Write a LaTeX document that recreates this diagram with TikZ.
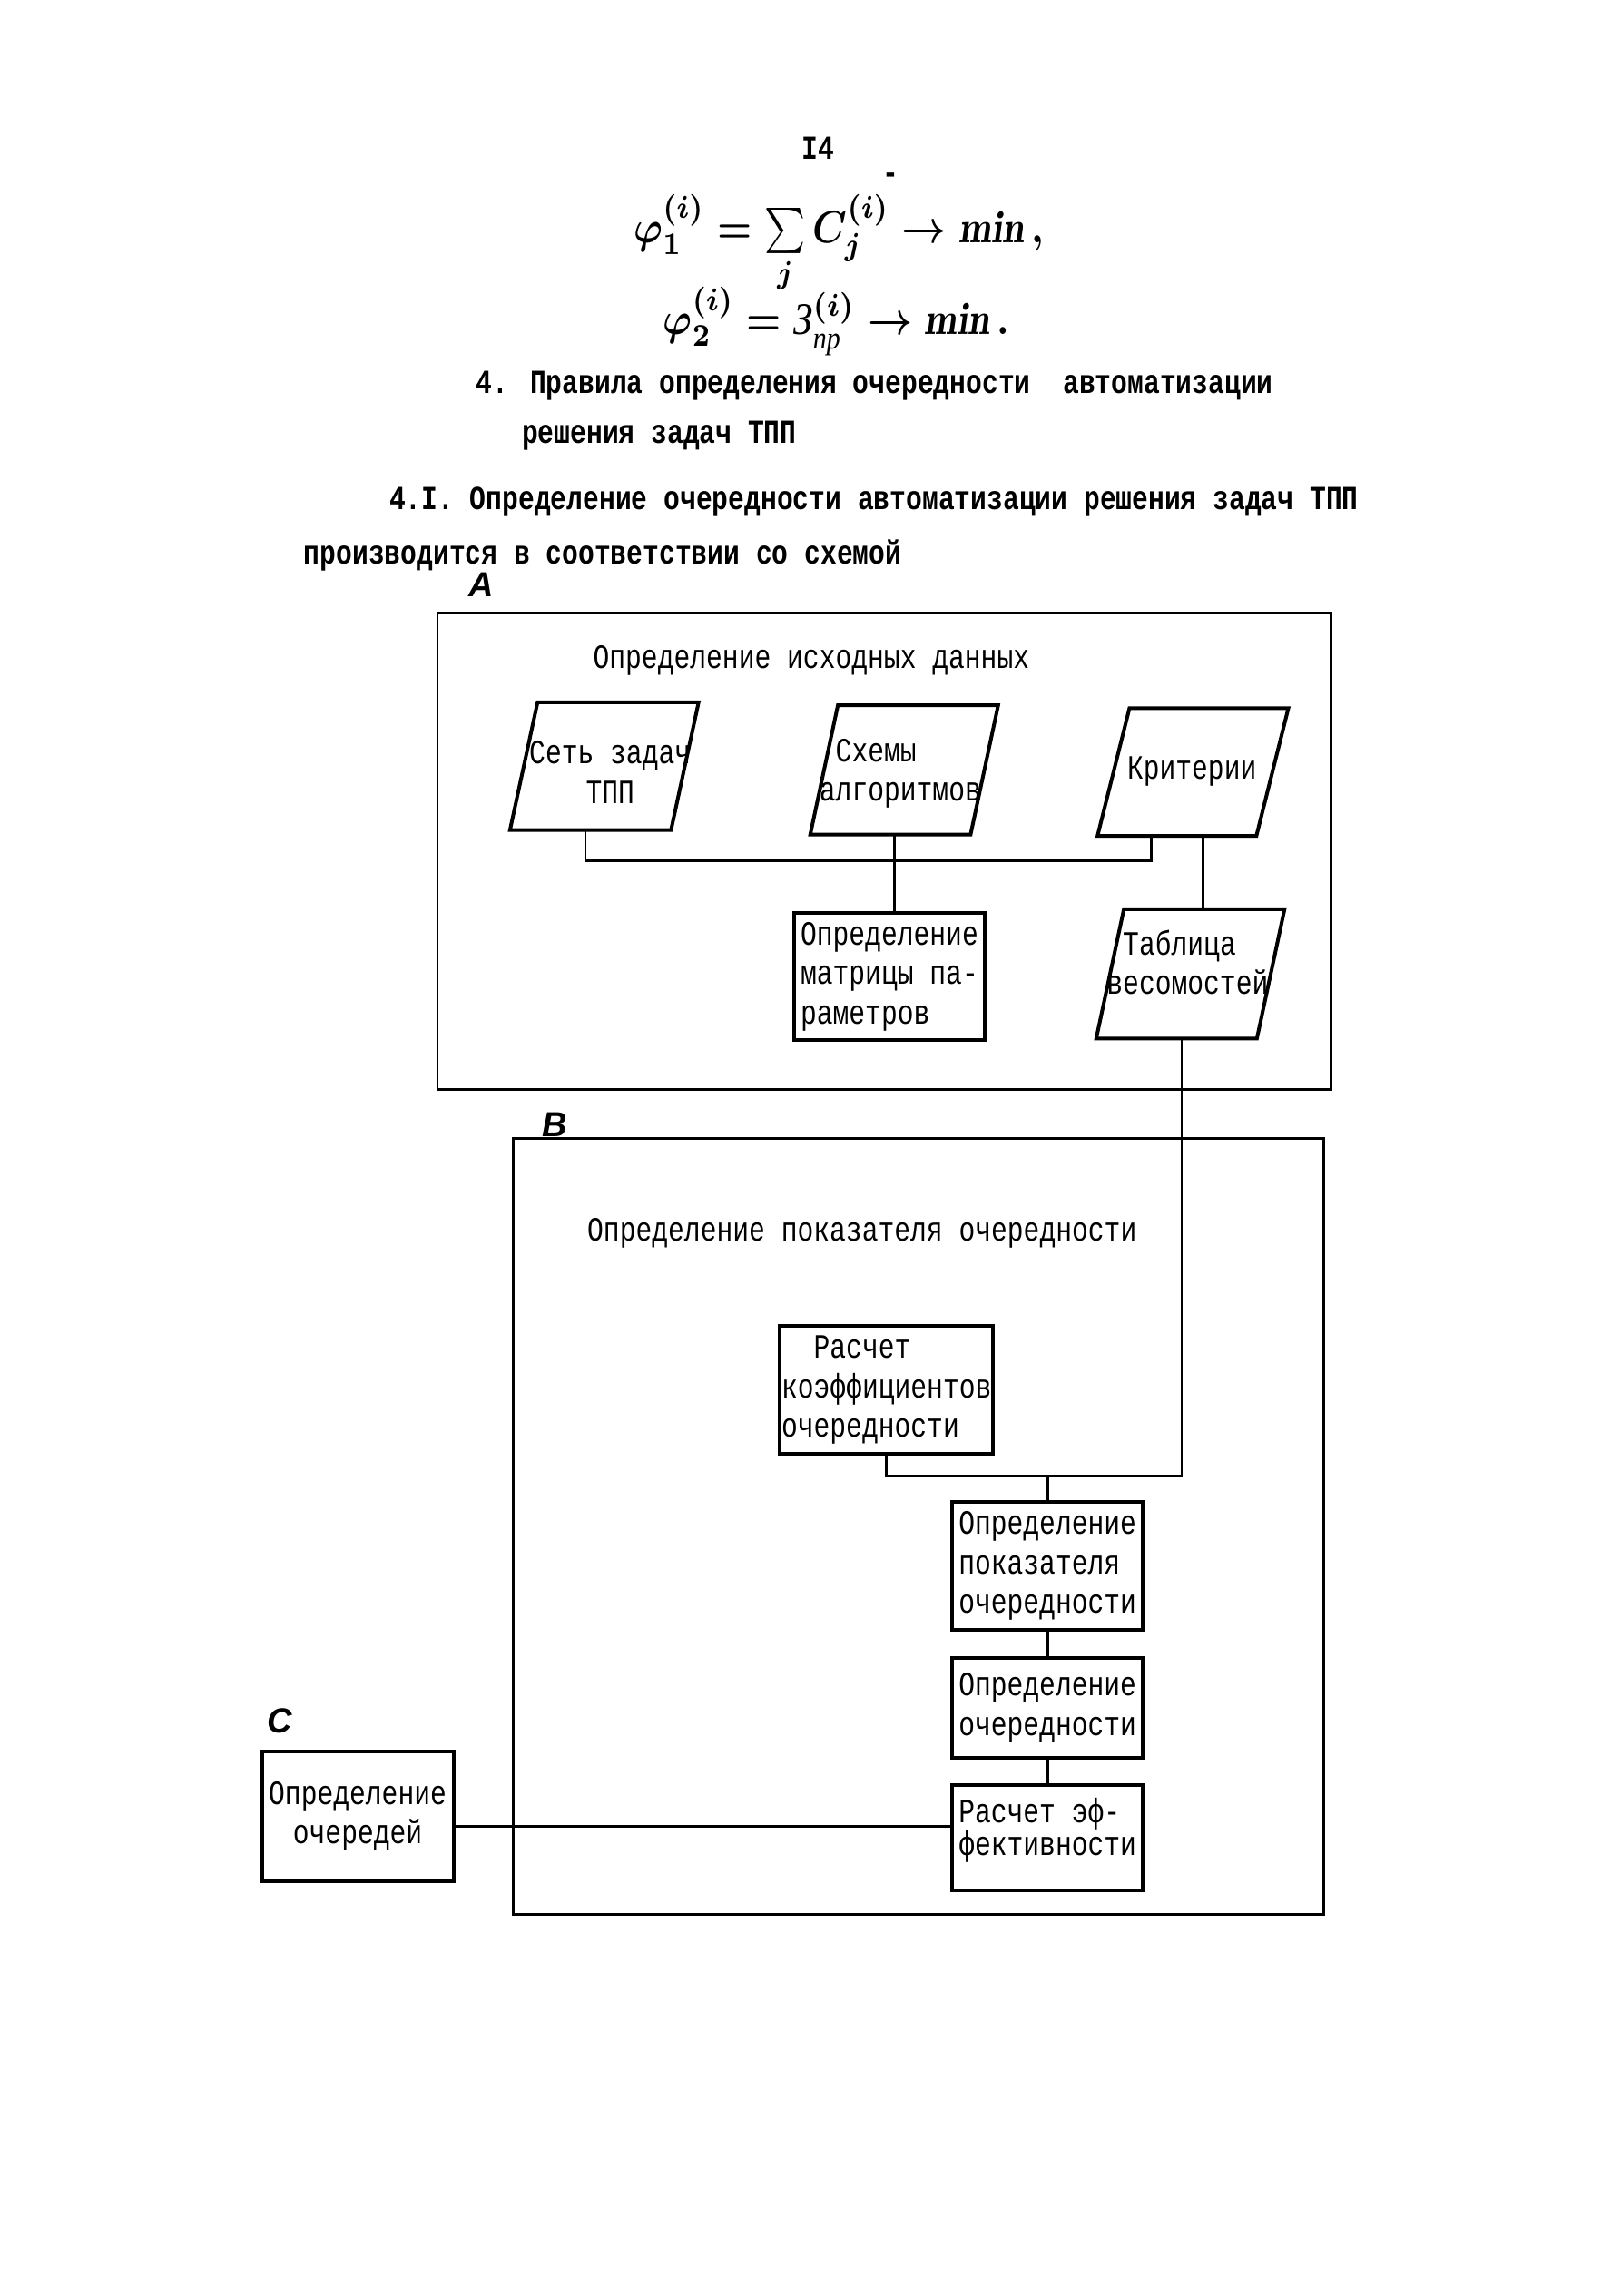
\documentclass[tikz,border=0pt]{standalone}
\usepackage{fontspec}
\usepackage{amsmath}
\usepackage{graphicx}
\newfontfamily\tw[FakeStretch=0.8]{Liberation Mono}
\newfontfamily\lblsans{Liberation Sans}
\newfontfamily\cyrit{Liberation Serif}
\newcommand\boxfont{\tw\fontsize{13.2}{15.3}\selectfont}
\newcommand\headfont{\tw\bfseries\fontsize{13}{15}\selectfont}
\newcommand\lblfont{\lblsans\bfseries\itshape\fontsize{13.5}{13.5}\selectfont}
\newcommand\drawpara[2]{\draw[pline] ([xshift=#2]#1.north west) -- ([xshift=#2]#1.north east) -- ([xshift=-#2]#1.south east) -- ([xshift=-#2]#1.south west) -- cycle;}
\begin{document}
\begin{tikzpicture}[x=0.2mm,y=-0.2mm,
  sbox/.style={draw, line width=1.4pt, inner sep=0pt, outer sep=0pt, font=\boxfont, align=left},
  bigbox/.style={draw, line width=1pt, inner sep=0pt, outer sep=0pt},
  pbase/.style={inner sep=0pt, outer sep=0pt},
  pline/.style={line width=1.4pt, line join=miter},
  conn/.style={line width=1pt},
  txt/.style={inner sep=0pt, font=\boxfont},
  head/.style={inner sep=0pt, font=\headfont, anchor=base west},
  lbl/.style={inner sep=0pt, font=\lblfont}]
\fill[white] (0,0) rectangle (1100,1559);

% header
\node[head] (pg) at (544,108) {I4};
\node[inner sep=0pt, font=\headfont] (pgdash) at (605,121) {-};
\node[anchor=west, inner sep=0pt] (f1) at (430,166) {\scalebox{1.5}[1.75]{\boldmath$\varphi_1^{(i)} = \sum\limits_j C_j^{(i)} \rightarrow \mathit{min}\,,$}};
\node[anchor=west, inner sep=0pt] (f2) at (450,218) {\scalebox{1.5}[1.75]{\boldmath$\varphi_2^{(i)} = \text{\cyrit\itshape З}_{\text{\cyrit\itshape пр}}^{(i)} \rightarrow \mathit{min}\,.$}};
\node[head] (h1) at (323,267) {4. Правила определения очередности\ \ автоматизации};
\node[head] (h2) at (354,301) {решения задач ТПП};
\node[head] (h3) at (264,346) {4.I. Определение очередности автоматизации решения задач ТПП};
\node[head] (h4) at (206,383) {производится в соответствии со схемой};

\begin{scope}[shift={(0.891mm,0.48mm)}, xscale=0.985, yscale=0.9965, transform shape]
% big boxes
\node[bigbox, minimum width=123.2mm, minimum height=65mm] (A) at (605,582.5) {};
\node[bigbox, minimum width=111.8mm, minimum height=105.8mm] (B) at (628.5,1042.5) {};
\node[lbl] (Alab) at (327,401) {A};
\node[lbl] (Blab) at (378,769) {B};
\node[lbl] (Clab) at (188,1175) {C};

\node[txt, anchor=base west] (At) at (404,458) {Определение исходных данных};
\node[txt, anchor=base west] (Bt) at (400,848) {Определение показателя очередности};

% parallelograms
\node[pbase, minimum width=22.2mm, minimum height=17.4mm] (p1) at (412,524.5) {};
\node[pbase, minimum width=22.1mm, minimum height=17.6mm] (p2) at (618.75,527) {};
\node[pbase, minimum width=21.9mm, minimum height=17.4mm] (p3) at (817.75,528.5) {};
\node[pbase, minimum width=22.15mm, minimum height=17.6mm] (p4) at (816,666) {};
\drawpara{p1}{1.9mm}
\drawpara{p2}{1.9mm}
\drawpara{p3}{2.2mm}
\drawpara{p4}{1.9mm}
\node[txt, align=center] (p1t) at (416,528.5) {Сеть задач\\ТПП};
\node[txt, align=left] (p2t) at (616,529.5) {\phantom{к}Схемы\\алгоритмов};
\node[txt] (p3t) at (817,528) {Критерии};
\node[txt, align=left] (p4t) at (814,658) {\phantom{в}Таблица\\весомостей};

% rectangular boxes
\node[sbox, minimum width=26.2mm, minimum height=17.3mm] (m) at (608.5,667.75) {Определение\\матрицы па-\\раметров};
\node[sbox, minimum width=29.4mm, minimum height=17.4mm] (r) at (606.5,949.5) {\phantom{кк}Расчет\\коэффициентов\\очередности};
\node[sbox, minimum width=26.2mm, minimum height=17.4mm] (op) at (717.5,1069.5) {Определение\\показателя\\очередности};
\node[sbox, minimum width=26.2mm, minimum height=13.6mm] (oo) at (717.5,1166) {Определение\\очередности};
\node[sbox, minimum width=26.2mm, minimum height=14.3mm] (re) at (717.5,1254.75) {};
\node[txt, align=left, font=\tw\fontsize{13.2}{12.8}\selectfont] (ret) at (717.5,1249.5) {Расчет эф-\\фективности};
\node[sbox, align=center, minimum width=26.4mm, minimum height=17.6mm] (c) at (242,1240) {Определение\\очередей};

% connectors
\coordinate (bus1) at (0,589);
\coordinate (bus2) at (0,1008);
\coordinate (cl) at (0,1247);
\coordinate (p1b) at ([xshift=-2.6mm]p1.south);
\coordinate (p3b) at ([xshift=-5.75mm]p3.south);
\coordinate (mt) at ([xshift=0.7mm]m.north);
\coordinate (p4t) at ([xshift=1.7mm]p4.north);
\coordinate (p4b) at ([xshift=-1.2mm]p4.south);
\draw[conn] (p1b) |- (p3b |- bus1) -- (p3b);
\draw[conn] (mt |- p2.south) -- (mt);
\draw[conn] (p4t |- p3.south) -- (p4t);
\draw[conn] (p4b) |- (r.south |- bus2) -- (r.south);
\draw[conn] (op.north |- bus2) -- (op.north);
\draw[conn] (op.south) -- (oo.north);
\draw[conn] (oo.south) -- (re.north);
\draw[conn] (c.east |- cl) -- (re.west |- cl);
\end{scope}
\end{tikzpicture}
\end{document}
